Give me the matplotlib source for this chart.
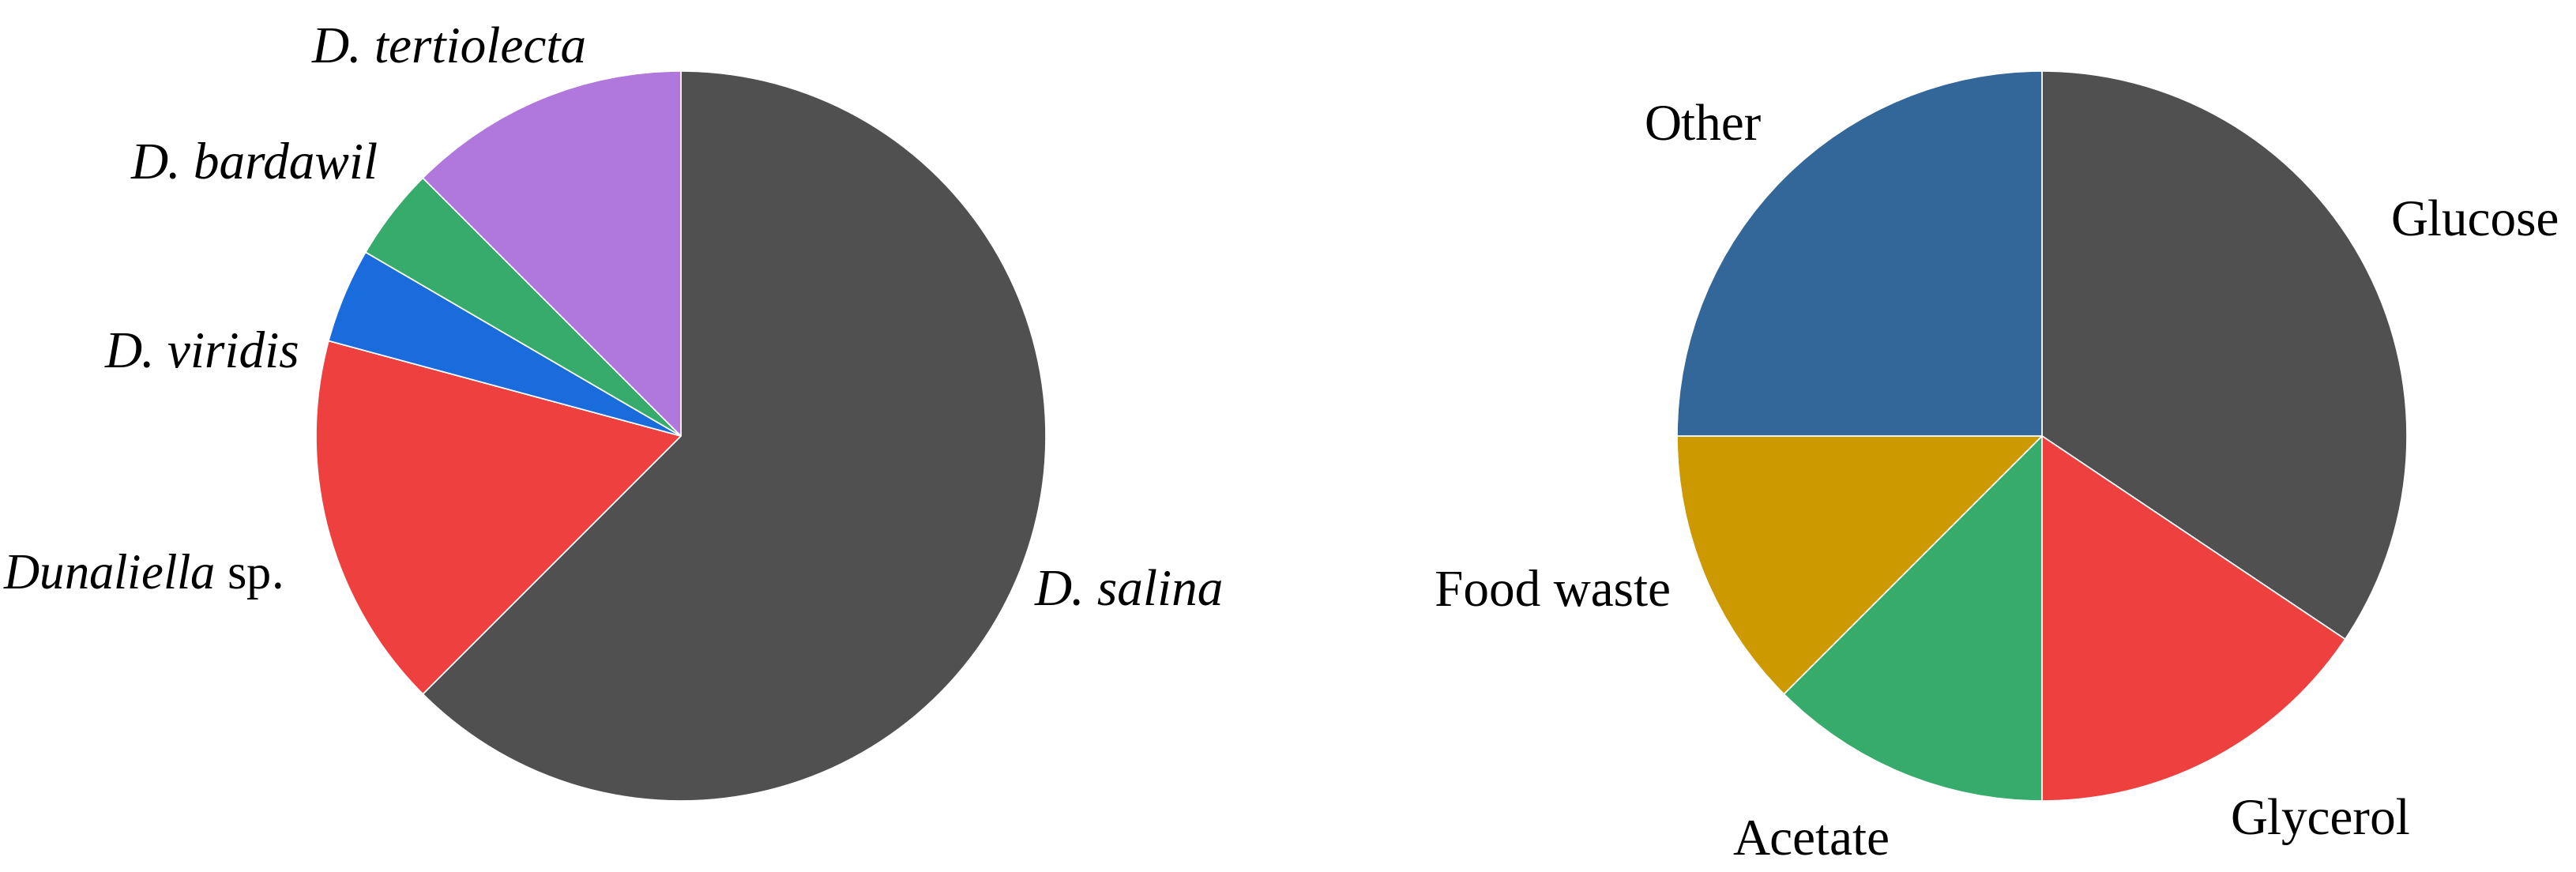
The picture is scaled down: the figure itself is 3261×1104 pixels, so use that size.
import matplotlib
matplotlib.use("Agg")
import matplotlib.pyplot as plt

plt.rcParams["font.family"] = ["Liberation Serif", "DejaVu Serif"]
plt.rcParams["mathtext.fontset"] = "custom"
plt.rcParams["mathtext.rm"] = "Liberation Serif"
plt.rcParams["mathtext.it"] = "Liberation Serif:italic"

# left pie: Dunaliella species
species = ["D. salina", "$\\mathit{Dunaliella}$ sp.", "D. viridis", "D. bardawil", "D. tertiolecta"]
species_share = [62.5, 16.7, 4.2, 4.1, 12.5]
species_colors = ["#505050", "#EF4040", "#1A6CDD", "#36AB6B", "#B077DC"]
species_italic = [True, False, True, True, True]

# right pie: carbon sources
sources = ["Glucose", "Glycerol", "Acetate", "Food waste", "Other"]
source_share = [34.4, 15.6, 12.5, 12.5, 25.0]
source_colors = ["#505050", "#EF4040", "#36AB6B", "#CC9900", "#336699"]

# label anchors (pie radius units)
species_label_pos = [(0.97, -0.431), (-1.093, -0.385), (-1.045, 0.223), (-0.83, 0.740), (-0.258, 1.057)]
source_label_pos = [(0.955, 0.582), (0.515, -1.056), (-0.418, -1.113), (-1.017, -0.431), (-0.768, 0.844)]

W, H = 3261, 1104
R = 462  # pie radius in px
fig = plt.figure(figsize=(W / 100, H / 100), dpi=100)


def pie_axes(cx, cy, kx, ky):
    left = (cx - kx * R) / W
    bottom = (H - cy - ky * R) / H
    ax = fig.add_axes([left, bottom, 2 * kx * R / W, 2 * ky * R / H])
    ax.axis("off")
    return ax


def draw_pie(ax, values, labels, colors, label_pos, kx, ky):
    wedges, texts = ax.pie(values, labels=labels, colors=colors, startangle=90,
                           counterclock=False, labeldistance=1.12,
                           wedgeprops=dict(edgecolor="white", linewidth=1.2),
                           textprops=dict(fontsize=47))
    for txt, pos in zip(texts, label_pos):
        txt.set_position(pos)
        txt.set_ha("left" if pos[0] > 0 else "right")
        txt.set_clip_on(False)
    ax.set_xlim(-kx, kx)
    ax.set_ylim(-ky, ky)
    return texts


ax1 = pie_axes(862, 552, 1.85, 1.19)
t1 = draw_pie(ax1, species_share, species, species_colors, species_label_pos, 1.85, 1.19)
for txt, it in zip(t1, species_italic):
    if it:
        txt.set_fontstyle("italic")
    else:
        txt.set_fontsize(45)

ax2 = pie_axes(2585, 552, 1.5, 1.19)
draw_pie(ax2, source_share, sources, source_colors, source_label_pos, 1.5, 1.19)

fig.savefig("out.png", dpi=100, facecolor="white")
